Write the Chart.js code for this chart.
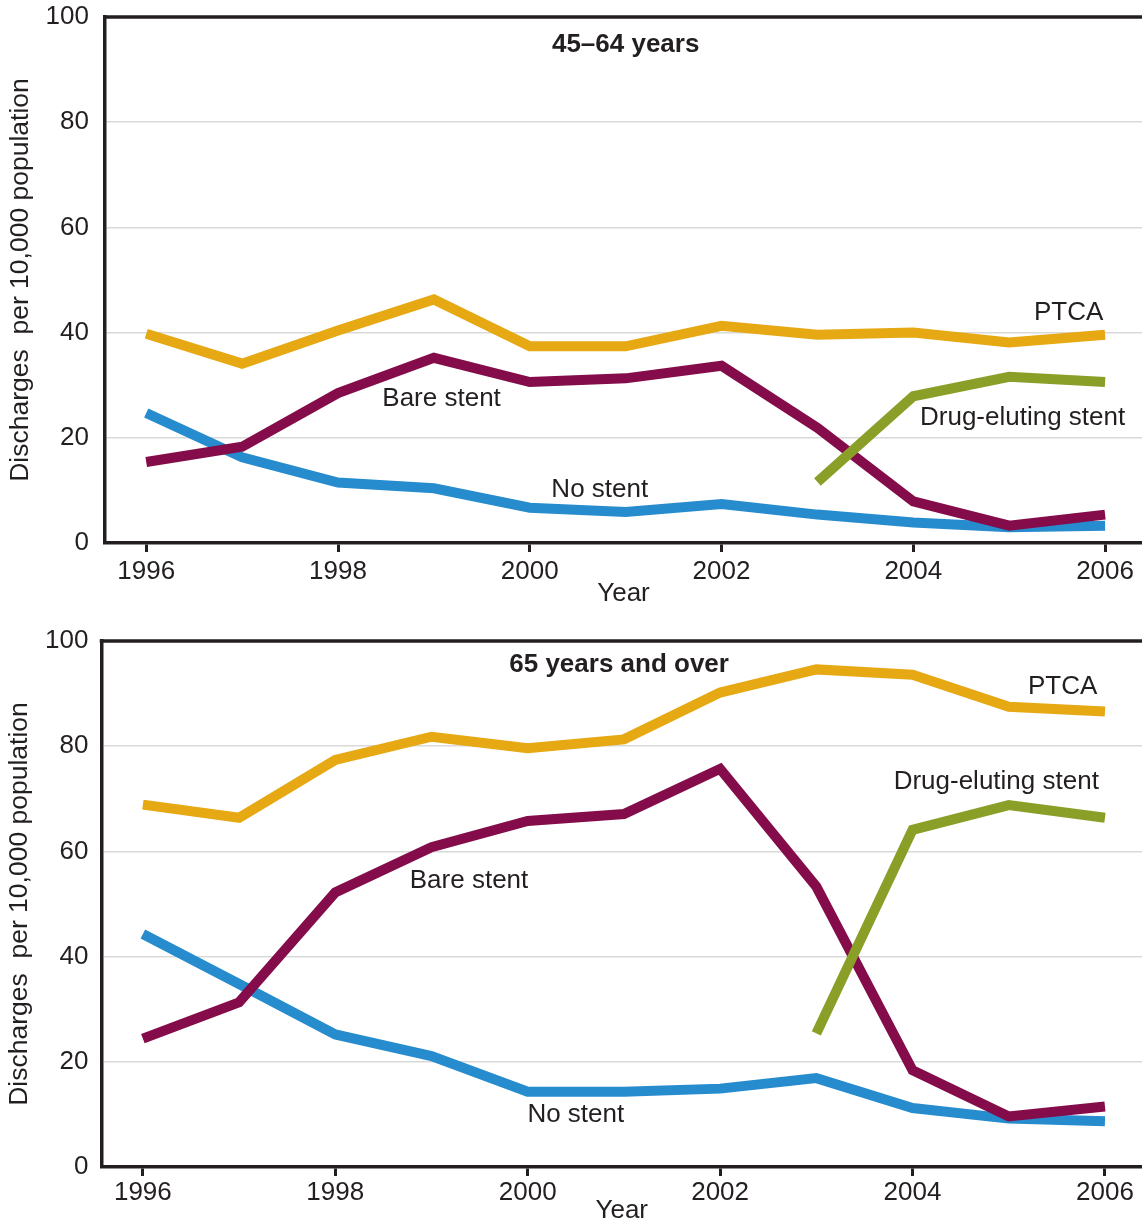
<!DOCTYPE html>
<html>
<head>
<meta charset="utf-8">
<script src="https://cdn.jsdelivr.net/npm/chart.js@4.4.1/dist/chart.umd.min.js"></script>
<style>
  body { margin: 0; background: #fff; }
  canvas { display: block; position: absolute; left: 0; }
  #graficoA { top: 0; }
  #graficoB { top: 624px; }
</style>
</head>
<body>
<canvas id="graficoA" width="1142" height="610"></canvas>
<canvas id="graficoB" width="1142" height="602"></canvas>
<script>
const anos = [1996, 1997, 1998, 1999, 2000, 2001, 2002, 2003, 2004, 2005, 2006];
const anosTicks = [1996, 1998, 2000, 2002, 2004, 2006];
const nomes = ["PTCA", "Drug-eluting stent", "Bare stent", "No stent"];

// 45–64 years
const ptcaA = [39.8, 34.1, 40.4, 46.3, 37.4, 37.4, 41.3, 39.6, 40.0, 38.1, 39.6];
const drugA = [null, null, null, null, null, null, null, 11.6, 27.9, 31.6, 30.6];
const bareA = [15.4, 18.3, 28.5, 35.2, 30.6, 31.3, 33.7, 21.9, 7.9, 3.3, 5.4];
const noA = [24.7, 16.3, 11.5, 10.4, 6.7, 5.9, 7.4, 5.4, 3.9, 3.0, 3.3];

// 65 years and over
const ptcaB = [68.9, 66.4, 77.4, 81.8, 79.6, 81.3, 90.2, 94.6, 93.6, 87.5, 86.6];
const drugB = [null, null, null, null, null, null, null, 25.4, 64.1, 68.8, 66.4];
const bareB = [24.4, 31.3, 52.2, 60.8, 65.8, 67.1, 75.7, 53.3, 18.4, 9.6, 11.5];
const noB = [44.3, 34.8, 25.2, 21.1, 14.3, 14.3, 14.9, 16.9, 11.2, 9.2, 8.7];

const cores = ["#e6a813", "#8a9f27", "#850c4a", "#268cce"];
const escuro = "#231f20";
const fonte = "'Liberation Sans', Arial, Helvetica, sans-serif";

// rotulos dentro do grafico (em coordenadas de dados)
const rotulosA = [
  { texto: "PTCA", x: 2005.62, y: 43.7 },
  { texto: "Drug-eluting stent", x: 2005.14, y: 23.8 },
  { texto: "Bare stent", x: 1999.08, y: 27.4 },
  { texto: "No stent", x: 2000.73, y: 10.2 },
];
const rotulosB = [
  { texto: "PTCA", x: 2005.56, y: 91.2 },
  { texto: "Drug-eluting stent", x: 2004.87, y: 73.2 },
  { texto: "Bare stent", x: 1999.39, y: 54.4 },
  { texto: "No stent", x: 2000.5, y: 9.9 },
];

const textos = {
  id: "textos",
  afterDatasetsDraw(chart, args, opts) {
    const { ctx, chartArea, scales } = chart;
    const x = scales.x, y = scales.y;
    ctx.save();
    ctx.strokeStyle = escuro;
    ctx.lineWidth = 3.5;
    ctx.beginPath();
    ctx.moveTo(chartArea.left - 1.75, chartArea.top);
    ctx.lineTo(chartArea.right, chartArea.top);
    ctx.stroke();

    ctx.fillStyle = escuro;
    ctx.textAlign = "center";
    ctx.textBaseline = "middle";
    ctx.font = "bold 26px " + fonte;
    ctx.fillText(opts.titulo.texto, x.getPixelForValue(opts.titulo.x), y.getPixelForValue(opts.titulo.y));
    ctx.font = "26px " + fonte;
    opts.rotulos.forEach((r) => {
      ctx.fillText(r.texto, x.getPixelForValue(r.x), y.getPixelForValue(r.y));
    });
    ctx.restore();
  },
};

function serie(valores) {
  const pontos = [];
  valores.forEach((v, i) => {
    if (v !== null) pontos.push({ x: anos[i], y: v });
  });
  return pontos;
}

function grafico(canvas, series, titulo, rotulos, cfg) {
  return new Chart(canvas, {
    type: "line",
    data: {
      datasets: series.map((s, i) => ({
        label: nomes[i],
        data: serie(s),
        borderColor: cores[i],
        backgroundColor: cores[i],
        borderWidth: 10,
        pointRadius: 0,
        tension: 0,
        fill: false,
        borderCapStyle: "butt",
        borderJoinStyle: "miter",
        order: i + 1,
      })),
    },
    options: {
      responsive: false,
      animation: false,
      layout: { padding: { top: 17, left: 0, right: 0, bottom: 0 } },
      plugins: {
        legend: { display: false },
        tooltip: { enabled: false },
        textos: { titulo: titulo, rotulos: rotulos },
      },
      scales: {
        x: {
          type: "linear",
          min: 1995.57,
          max: 2006.385,
          afterBuildTicks: (scale) => {
            scale.ticks = anosTicks.map((v) => ({ value: v }));
          },
          afterFit: (scale) => {
            scale.height = cfg.alturaX;
            scale.paddingLeft = 0;
            scale.paddingRight = 0;
          },
          grid: {
            drawOnChartArea: false,
            drawTicks: true,
            tickLength: 9,
            tickWidth: 3,
            tickColor: escuro,
          },
          border: { display: true, color: escuro, width: 3.5 },
          ticks: {
            color: escuro,
            font: { family: fonte, size: 26 },
            padding: cfg.padTickX,
            maxRotation: 0,
            autoSkip: false,
            callback: (v) => String(v),
          },
          title: {
            display: true,
            text: "Year",
            color: escuro,
            font: { family: fonte, size: 26 },
            padding: { top: 0, bottom: cfg.padAno },
          },
        },
        y: {
          min: 0,
          max: 100,
          afterFit: (scale) => {
            scale.width = cfg.larguraY;
            scale.paddingTop = 0;
            scale.paddingBottom = 0;
          },
          grid: {
            color: "#d9d9d9",
            lineWidth: 1.5,
            drawTicks: false,
          },
          border: { display: true, color: escuro, width: 3.5 },
          ticks: {
            stepSize: 20,
            color: escuro,
            font: { family: fonte, size: 26 },
            padding: cfg.padTickY,
          },
          title: {
            display: true,
            text: "Discharges  per 10,000 population",
            color: escuro,
            font: { family: fonte, size: 26.5 },
            padding: { top: cfg.padTituloY, bottom: 0 },
          },
        },
      },
    },
    plugins: [textos],
  });
}

grafico(
  document.getElementById("graficoA"),
  [ptcaA, drugA, bareA, noA],
  { texto: "45\u201364 years", x: 2001, y: 94.8 },
  rotulosA,
  { alturaX: 67, padTickX: 4, padAno: 1, larguraY: 105, padTickY: 16, padTituloY: 5 }
);

grafico(
  document.getElementById("graficoB"),
  [ptcaB, drugB, bareB, noB],
  { texto: "65 years and over", x: 2000.95, y: 95.5 },
  rotulosB,
  { alturaX: 59, padTickX: 1, padAno: 0, larguraY: 101.5, padTickY: 13, padTituloY: 3.5 }
);
</script>
</body>
</html>
